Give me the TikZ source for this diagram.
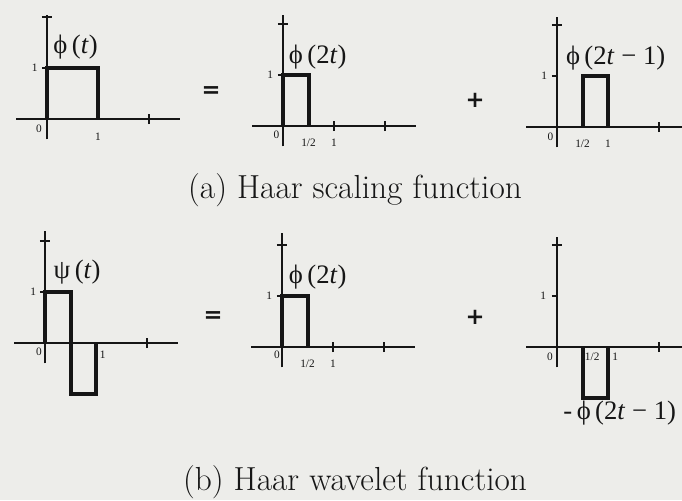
\documentclass[tikz,border=0pt]{standalone}
\usepackage{fontspec}
\newfontfamily\tms{Liberation Serif}
\newfontfamily\heavy{DejaVu Sans}
\usetikzlibrary{positioning}

\definecolor{paper}{RGB}{237,237,234}
\definecolor{ink}{RGB}{22,22,22}

\tikzset{
  axis/.style={draw=ink, line width=0.9pt},
  pulse/.style={draw=ink, line width=3pt, line join=miter},
  ticklbl/.style={font=\tms\fontsize{8.5}{8.5}\selectfont, text=ink, inner sep=0pt},
  fnlbl/.style={font=\tms\fontsize{20}{20}\selectfont, text=ink, inner sep=0pt},
  oplbl/.style={font=\heavy\bfseries\fontsize{17}{17}\selectfont, text=ink, inner sep=0pt},
  caption/.style={font=\fontsize{25}{30}\selectfont, text=ink, inner sep=0pt}
}

\begin{document}
\begin{tikzpicture}[x=0.75pt, y=-0.75pt]
  \fill[paper] (0,0) rectangle (682,500);
  \useasboundingbox (0,0) rectangle (682,500);
  \clip (0,0) rectangle (682,500);

  % origins of the six plots (pixels)
  \coordinate (a1) at (47,119);
  \coordinate (a2) at (283,126);
  \coordinate (a3) at (557,127);
  \coordinate (b1) at (45,343);
  \coordinate (b2) at (282,347);
  \coordinate (b3) at (557,347);

  % axes and ticks
  \foreach \p/\top/\one in {a1/2.04/0, a2/2.18/1, a3/2.16/0, b1/2.2/0, b2/2.24/1, b3/2.16/0} {
    \begin{scope}[shift={(\p)}, x=38.25pt, y=38.25pt]
      \draw[axis] (-0.6,0) -- (2.6,0);
      \draw[axis] (0,-0.4) -- (0,\top);
      \draw[axis] (2,-0.1) -- (2,0.1);
      \draw[axis] (-0.1,2) -- (0.1,2);
      \draw[axis] (-0.1,1) -- (0,1);
      \ifnum\one=1
        \draw[axis] (1,-0.1) -- (1,0.1);
      \fi
    \end{scope}
  }

  % (a) scaling function
  \begin{scope}[shift={(a1)}, x=38.25pt, y=38.25pt]
    \draw[pulse] (0,0) -- (0,1) -- (1,1) -- (1,0);
    \node[fnlbl] (phi) at (0.56,1.41) {ϕ\,(\textit{t})};
    \node[ticklbl] (a1y) at (-0.24,1) {1};
    \node[ticklbl] (a1o) at (-0.16,-0.2) {0};
    \node[ticklbl] (a1x) at (1,-0.35) {1};
  \end{scope}
  \node[oplbl] (eqa) at (211,92) {=};

  \begin{scope}[shift={(a2)}, x=38.25pt, y=38.25pt]
    \draw[pulse] (0,0) -- (0,1) -- (0.5,1) -- (0.5,0);
    \node[fnlbl] (phitwo) at (0.68,1.35) {ϕ\,(2\textit{t})};
    \node[ticklbl] (a2y) at (-0.25,1) {1};
    \node[ticklbl] (a2o) at (-0.13,-0.17) {0};
    \node[ticklbl] (a2h) at (0.5,-0.33) {1/2};
    \node[ticklbl] (a2x) at (1,-0.33) {1};
  \end{scope}
  \node[oplbl] (plusa) at (475,100) {+};

  \begin{scope}[shift={(a3)}, x=38.25pt, y=38.25pt]
    \draw[pulse] (0.5,0) -- (0.5,1) -- (1,1) -- (1,0);
    \node[fnlbl] (phishift) at (1.15,1.35) {ϕ\,(2\textit{t} − 1)};
    \node[ticklbl] (a3y) at (-0.25,1) {1};
    \node[ticklbl] (a3o) at (-0.13,-0.2) {0};
    \node[ticklbl] (a3h) at (0.5,-0.33) {1/2};
    \node[ticklbl] (a3x) at (1,-0.33) {1};
  \end{scope}

  \node[caption] (capa) at (355,190) {(a) Haar scaling function};

  % (b) wavelet function
  \begin{scope}[shift={(b1)}, x=38.25pt, y=38.25pt]
    \draw[pulse] (0,0) -- (0,1) -- (0.5,1) -- (0.5,-1) -- (1,-1) -- (1,0);
    \node[fnlbl] (psi) at (0.63,1.4) {ψ\,(\textit{t})};
    \node[ticklbl] (b1y) at (-0.23,1) {1};
    \node[ticklbl] (b1o) at (-0.12,-0.17) {0};
    \node[ticklbl] (b1x) at (1.13,-0.23) {1};
  \end{scope}
  \node[oplbl] (eqb) at (213,317) {=};

  \begin{scope}[shift={(b2)}, x=38.25pt, y=38.25pt]
    \draw[pulse] (0,0) -- (0,1) -- (0.5,1) -- (0.5,0);
    \node[fnlbl] (phitwob) at (0.7,1.37) {ϕ\,(2\textit{t})};
    \node[ticklbl] (b2y) at (-0.25,1) {1};
    \node[ticklbl] (b2o) at (-0.1,-0.16) {0};
    \node[ticklbl] (b2h) at (0.5,-0.33) {1/2};
    \node[ticklbl] (b2x) at (1,-0.33) {1};
  \end{scope}
  \node[oplbl] (plusb) at (475,317) {+};

  \begin{scope}[shift={(b3)}, x=38.25pt, y=38.25pt]
    \draw[pulse] (0.5,0) -- (0.5,-1) -- (1,-1) -- (1,0);
    \node[fnlbl] (negphi) at (1.23,-1.29) {-\,ϕ\,(2\textit{t} − 1)};
    \node[ticklbl] (b3y) at (-0.27,1) {1};
    \node[ticklbl] (b3o) at (-0.14,-0.2) {0};
    \node[ticklbl] (b3h) at (0.69,-0.2) {1/2};
    \node[ticklbl] (b3x) at (1.14,-0.2) {1};
  \end{scope}

  \node[caption] (capb) at (355,482) {(b) Haar wavelet function};
\end{tikzpicture}
\end{document}
